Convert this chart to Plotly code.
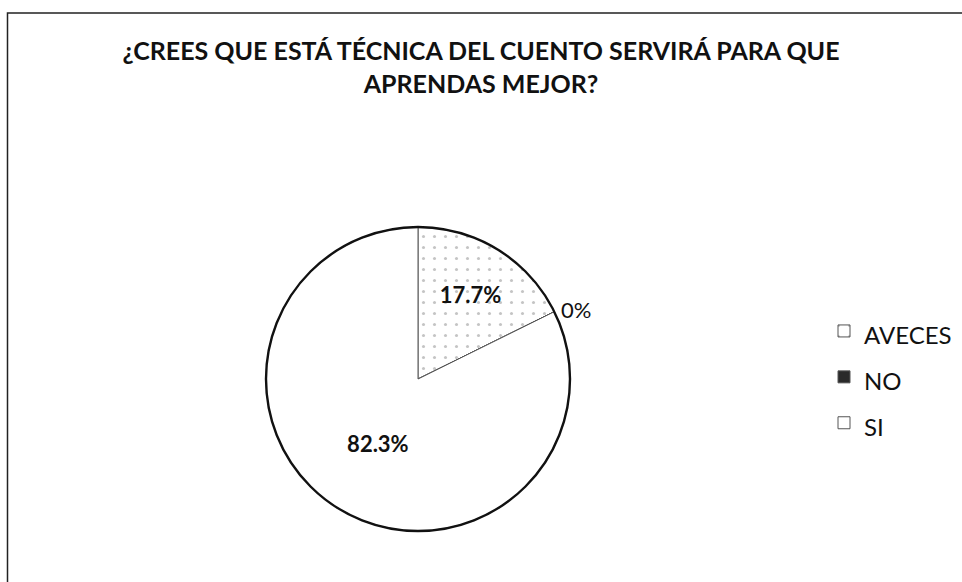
import plotly.graph_objects as go

labels = ["AVECES", "NO", "SI"]
values = [17.7, 0.0, 82.3]
text_labels = ["17.7%", "0%", "82.3%"]
title_text = "¿CREES QUE ESTÁ TÉCNICA DEL CUENTO SERVIRÁ PARA QUE<br>APRENDAS MEJOR?"

W, H = 962, 582
cx, cy, r = 418, 379, 152
dom_x = [(cx - r) / W, (cx + r) / W]
dom_y = [(H - cy - r) / H, (H - cy + r) / H]

legend_labels = ['<span style="font-size:24px">' + l + '</span>' for l in labels]

fig = go.Figure()
fig.add_trace(go.Pie(
    labels=legend_labels, values=values, sort=False, direction="clockwise", rotation=0,
    text=text_labels, textinfo="text",
    texttemplate=["<b>%{text}</b>", "%{text}", "<b>%{text}</b>"],
    textposition=["inside", "outside", "inside"],
    insidetextorientation="horizontal",
    textfont=dict(family="Lato", size=22, color="#111"),
    marker=dict(colors=["#ffffff", "#2a2a2a", "#ffffff"],
                line=dict(color="#555555", width=1),
                pattern=dict(shape=[".", "", ""], fgcolor="#c4c4c4", size=11, solidity=0.06)),
    domain=dict(x=dom_x, y=dom_y),
    showlegend=True, hoverinfo="label+percent",
))
fig.add_trace(go.Pie(
    labels=["total"], values=[sum(values)], textinfo="none",
    marker=dict(colors=["rgba(0,0,0,0)"], line=dict(color="#111111", width=2.4)),
    domain=dict(x=dom_x, y=dom_y), showlegend=False, hoverinfo="skip",
))

fig.update_layout(
    width=W, height=H,
    margin=dict(l=0, r=0, t=0, b=0),
    paper_bgcolor="white", plot_bgcolor="white",
    title=dict(text="<b>" + title_text + "</b>", x=0.5, xanchor="center", y=(H - 60) / H, yanchor="middle",
               font=dict(family="Lato", size=25, color="#111")),
    legend=dict(x=824 / W, y=(H - 377) / H, xanchor="left", yanchor="middle",
                font=dict(family="Lato", size=33, color="#111"),
                itemwidth=30, tracegroupgap=0, bgcolor="rgba(0,0,0,0)"),
    shapes=[dict(type="rect", xref="paper", yref="paper", x0=7.5 / W, x1=1.02, y0=-0.02, y1=(H - 13) / H,
                 line=dict(color="#222", width=1.5), fillcolor="rgba(0,0,0,0)")],
)
fig.write_html("out.html", config={"displayModeBar": False},
               post_script="document.body.style.margin='0';")
